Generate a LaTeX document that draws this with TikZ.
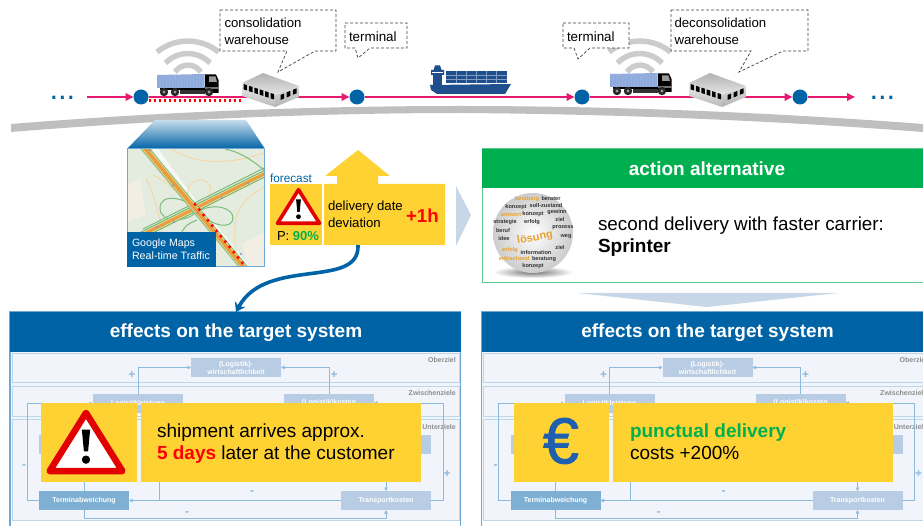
\documentclass[tikz,border=0pt]{standalone}
\usepackage{fontspec}
\setmainfont{Liberation Sans}
\newfontfamily\eurofont[FakeBold=1.2]{Liberation Sans}
\usetikzlibrary{arrows.meta,shapes.geometric}
\definecolor{hdrblue}{HTML}{0063A6}
\definecolor{linkpink}{HTML}{E5196E}
\definecolor{sunny}{HTML}{FFD233}
\definecolor{softblue}{HTML}{C8D7E8}
\definecolor{okgreen}{HTML}{00B050}
\definecolor{bandgrey}{HTML}{BFBFBF}
\definecolor{panelbg}{HTML}{F1F4FA}
\definecolor{bandline}{HTML}{BCD6EA}
\definecolor{goalbox}{HTML}{B8CCE4}
\definecolor{goalboxdark}{HTML}{7FB0D3}
\definecolor{goalline}{HTML}{8DBBDD}
\definecolor{panelline}{HTML}{6FA8D4}
\definecolor{shipblue}{HTML}{1F4E8C}
\definecolor{shipline}{HTML}{7F9CC5}
\definecolor{alarmred}{HTML}{E30000}
\definecolor{roadgreen}{HTML}{7ABC78}
\definecolor{roadorange}{HTML}{E89E3C}
\definecolor{rampyellow}{HTML}{F5D9A5}
\definecolor{mapground}{HTML}{E4ECDF}
\definecolor{mapbeige}{HTML}{F2EEE4}
\definecolor{wordorange}{HTML}{E8A030}
\definecolor{eurocol}{HTML}{1F5FAF}
\newcommand{\fs}[1]{\fontsize{#1}{#1}\selectfont}
\tikzset{
  txt/.style={anchor=base west,inner sep=0pt,outer sep=0pt},
  hub/.style={circle,fill=hdrblue,minimum size=15pt,inner sep=0pt,outer sep=0pt},
  leg/.style={draw=linkpink,line width=1.8pt},
  legarrow/.style={leg,-{Triangle[length=8pt,width=7.5pt]}},
  callout/.style={draw=black!75,line width=.7pt,fill=white,dash pattern=on 3pt off 2pt},
  yellowbox/.style={fill=sunny},
  goal/.style={fill=goalbox,text=white,font=\bfseries\fs{7},align=center,inner sep=0pt,outer sep=0pt,minimum width=90pt,minimum height=19pt},
  goaldark/.style={goal,fill=goalboxdark},
  goalflow/.style={draw=goalline,line width=1pt},
  goalarrow/.style={goalflow,-{Triangle[length=3.5pt,width=3.5pt]}},
  tag/.style={text=black!45,font=\bfseries\fs{7},anchor=base east,inner sep=0pt},
  sign/.style={text=goalline,font=\bfseries\fs{12},inner sep=0pt},
  wifiarc/.style={draw=black!20,line width=5.5pt},
  ramp/.style={draw=rampyellow,line width=1pt},
  loopg/.style={draw=roadgreen,line width=1pt},
  word/.style={inner sep=0pt,text=black!80,font=\bfseries\fs{5.6}},
  hotword/.style={word,text=wordorange},
  pics/wifi/.style={code={
    \draw[wifiarc] (157,52) arc[start angle=129,end angle=51,radius=49pt];
    \draw[wifiarc] (165.5,63) arc[start angle=136,end angle=44,radius=31pt];
    \draw[wifiarc] (175,72) arc[start angle=146,end angle=34,radius=15.6pt];
  }},
  pics/truck/.style={code={
    \fill[fill=black] (160,87) rectangle (206,90);
    \fill[fill=black!80] (180,90) rectangle (205,94);
    \fill[fill=black] (205,74.5) -- (216,74.5) -- (218.5,80) -- (218.5,93) -- (205,93) -- cycle;
    \fill[fill=black!40] (209,76.5) -- (215.5,76.5) -- (217,82) -- (209,82) -- cycle;
    \fill[fill=black!55] (205,87) rectangle (218.5,89);
    \fill[fill={rgb,255:red,143;green,170;blue,220}] (157,75) -- (204.5,74) -- (204.5,88) -- (157,88) -- cycle;
    \foreach \q in {160,163,...,203}{\draw[white,opacity=.08,line width=.5pt] (\q,75) -- (\q,88);}
    \foreach \q in {164,175,209}{
      \fill[black!85] (\q,92) circle (4.2pt);
      \fill[black!40] (\q,92) circle (1.6pt);
    }
  }},
  pics/depot/.style={code={
    \shade[top color=black!6,bottom color=black!28] (242,83) -- (242,96) -- (275,107) -- (275,95) -- cycle;
    \shade[top color=black!14,bottom color=black!30] (275,95) -- (275,107) -- (299,97) -- (299,86) -- cycle;
    \shade[top color=black!30,bottom color=black!10] (242,83) -- (263,73) -- (299,86) -- (275,95) -- cycle;
    \foreach \q in {0,1,2,3,4,5}{
      \fill[black] (243.5+\q*5.4,84+\q*1.8) -- ++(3.6,1.1) -- ++(0,5.4) -- ++(-3.6,-1.1) -- cycle;
    }
    \foreach \q in {0,1,2}{
      \fill[black] (280.5+\q*6.2,95-\q*2.6) -- ++(3.6,-1.5) -- ++(0,5) -- ++(-3.6,1.5) -- cycle;
    }
  }},
  pics/alarm/.style={code={
    \draw[draw=alarmred,fill=white,line width=#1,line join=round]
      (0,-28) -- (35,28) -- (-35,28) -- cycle;
    \fill[black] (-4,-12) -- (4,-12) -- (2,9) -- (-2,9) -- cycle;
    \fill[black] (0,17) circle (4pt);
  }},
  pics/targetpanel/.style={code={
    \fill[panelbg] (10,352) rectangle (460,520);
    \draw[bandline,line width=1pt] (12,353) rectangle (459,382);
    \draw[bandline,line width=1pt] (12,386) rectangle (459,416);
    \draw[bandline,line width=1pt] (12,419.5) rectangle (459,520);
    \draw[panelline,line width=1.2pt] (10,526) -- (10,312) -- (460.5,312) -- (460.5,526);
    \node[tag] at (456,362) {Oberziel};
    \node[tag] at (456,395) {Zwischenziele};
    \node[tag] at (456,429) {Unterziele};
    \node[goal] (top) at (236,367.5) {(Logistik)-\\[1pt]wirtschaftlichkeit};
    \node[goal] (perf) at (138,403.5) {Logistikleistung};
    \node[goal] (cost) at (329,403) {(Logistik)kosten};
    \node[goal] (subl) at (84,444.5) {};
    \node[goal] (subr) at (386,444.5) {};
    \node[goaldark] (late) at (84,500.5) {Terminabweichung};
    \node[goal] (trans) at (386,500.5) {Transportkosten};
    \draw[goalarrow] (perf.north) |- (top.west);
    \draw[goalarrow] (cost.north) |- (top.east);
    \draw[goalarrow] (late.west) -- ++(-12,0) |- (perf.west);
    \draw[goalarrow] (trans.east) -- ++(12,0) |- (cost.east);
    \draw[goalarrow] (trans.west) -- (late.east);
    \draw[goalflow] (159,470) -- (159,500.5);
    \draw[goalflow] (late.north) -- (subl.south);
    \draw[goalarrow] (subr.south) -- (trans.north);
    \draw[goalarrow] (late.south) |- (386,518) -- (trans.south);
    \node[sign] at (132,375) {+};
    \node[sign] at (334,375) {+};
    \node[sign] at (447,474) {+};
    \node[sign] at (24,467) {-};
    \node[sign] at (252,493) {-};
    \node[sign] at (187,514) {-};
    \fill[hdrblue] (10,312) rectangle (460.5,352);
    \node[text=white,font=\bfseries\fs{19},inner sep=0pt] (title) at (236,332.5) {effects on the target system};
    \coordinate (headtop) at (236,312);
  }},
}
\begin{document}
\begin{tikzpicture}[x=1pt,y=-1pt]
\useasboundingbox (0,0) rectangle (923,526);
\clip (0,0) rectangle (923,526);

% hubs and connectors
\node[hub] (h1) at (141,97) {};
\node[hub] (h2) at (357,97) {};
\node[hub] (h3) at (582,97) {};
\node[hub] (h4) at (800,97) {};
\coordinate (start) at (87,97);
\coordinate (stop) at (855,97);
\coordinate (wh1) at (271,97);
\coordinate (wh2) at (718,97);
\draw[legarrow] (start) -- (h1);
\draw[leg] (h1) -- (wh1);
\draw[legarrow] (wh1) -- (h2);
\draw[legarrow] (h2) -- (h3);
\draw[leg] (h3) -- (wh2);
\draw[legarrow] (wh2) -- (h4);
\draw[legarrow] (h4) -- (stop);
\coordinate (dot1) at (148.5,100.5);
\coordinate (dot2) at (241,100.5);
\draw[red,line width=3pt,dash pattern=on 2.8pt off 2.2pt] (dot1) -- (dot2);
\node[txt,text=hdrblue,font=\fs{31}] (lead) at (49.5,100) {...};
\node[txt,text=hdrblue,font=\fs{31}] (trail) at (869.5,100) {...};

% wifi and trucks
\pic at (0,0) {wifi};
\pic at (452,0) {wifi};
\pic at (0,0) {truck};
\pic at (453,-1) {truck};
\pic at (0,0) {depot};
\pic at (447,0) {depot};

% ship
\fill[shipblue] (430,85) -- (511,84) -- (505,94) -- (437,94) -- (431,90) -- cycle;
\fill[shipblue] (433,75) rectangle (442,86);
\fill[shipblue] (431,70) -- (433.5,70) -- (435,65.5) -- (440,65.5) -- (441.5,70) -- (444,70) -- (444,75) -- (431,75) -- cycle;
\fill[shipblue] (446,71) rectangle (507,83);
\foreach \q in {456,466,476,486,496}{\draw[shipline,line width=.5pt] (\q,71) -- (\q,83);}
\foreach \q in {75,79}{\draw[shipline,line width=.5pt] (446,\q) -- (507,\q);}
\draw[white,line width=.6pt] (432,72) -- (443,72);

% callouts
\draw[callout] (220,10) -- (336,10) -- (336,51) -- (315,51) -- (278,72) -- (287,51) -- (220,51) -- cycle;
\node[txt,font=\fs{13.2}] (cw1) at (224.5,27.5) {consolidation};
\node[txt,font=\fs{13.2}] (cw2) at (224.5,45) {warehouse};
\draw[callout] (345,23) -- (407,23) -- (407,48) -- (370,48) -- (358,58) -- (355,48) -- (345,48) -- cycle;
\node[txt,font=\fs{13.4}] (t1) at (349,41.5) {terminal};
\draw[callout] (563,23) -- (629,23) -- (629,48) -- (590,48) -- (578,59) -- (574,48) -- (563,48) -- cycle;
\node[txt,font=\fs{13.4}] (t2) at (567,41.5) {terminal};
\draw[callout] (671,10) -- (808,10) -- (808,51) -- (783,51) -- (739,72) -- (751,51) -- (671,51) -- cycle;
\node[txt,font=\fs{13.2}] (dw1) at (674.5,27.5) {deconsolidation};
\node[txt,font=\fs{13.2}] (dw2) at (674.5,45) {warehouse};

% grey beam
\fill[bandgrey] (11,124) .. controls (160,112) and (310,106) .. (460,106)
  .. controls (620,106) and (780,113) .. (923,124) -- (923,132)
  .. controls (780,121) and (620,114) .. (460,113)
  .. controls (310,113) and (160,120) .. (11,132) -- cycle;

% funnel
\shade[top color=hdrblue!22!white,bottom color=hdrblue] (155,120) -- (246,120) -- (265,149) -- (127,149) -- cycle;

% map
\begin{scope}
\clip (127,149) rectangle (264,267);
\fill[mapground] (127,149) rectangle (264,267);
\fill[mapbeige] (127,185) -- (140,178) -- (146,215) -- (127,222) -- cycle;
\fill[mapbeige] (264,232) -- (264,267) -- (248,267) -- (242,244) -- cycle;
\fill[white!70!mapground] (152,149) -- (158,149) -- (197,202) -- (192,207) -- cycle;
\fill[white!70!mapground] (208,224) -- (214,222) -- (250,267) -- (240,267) -- cycle;
\draw[ramp] (146,178) .. controls (152,190) and (160,215) .. (162,232);
\draw[ramp] (264,187) .. controls (245,198) and (236,210) .. (235,225) .. controls (234,245) and (236,255) .. (238,267);
\draw[ramp] (197,208) .. controls (188,202) and (187,193) .. (188,189) .. controls (190,180) and (205,175) .. (210,186) .. controls (212,195) and (205,204) .. (198,208);
\draw[ramp] (153,175) .. controls (170,183) and (182,198) .. (192,206);
\draw[ramp] (172,149) .. controls (195,165) and (230,165) .. (264,153);
\draw[loopg] (150,149) .. controls (165,175) and (178,190) .. (192,203);
\draw[loopg] (225,149) .. controls (240,152) and (252,160) .. (264,170);
\draw[loopg] (196,210) .. controls (188,198) and (160,192) .. (160,208) .. controls (160,224) and (188,222) .. (196,212);
\draw[loopg] (201,210) .. controls (215,203) and (233,208) .. (233,218) .. controls (233,230) and (210,226) .. (203,214);
\draw[loopg] (197,220) .. controls (187,224) and (182,228) .. (181,236);
\draw[loopg] (228,248) .. controls (232,254) and (236,260) .. (240,267);
\draw[draw=roadgreen,line width=7pt] (140,236) -- (270,171);
\draw[draw=rampyellow,line width=4.6pt] (140,236) -- (270,171);
\draw[draw=roadorange,line width=3pt] (140,236) -- (270,171);
\draw[draw=roadgreen,line width=1pt] (143,229) -- (270,165);
\draw[draw=roadgreen,line width=7.5pt] (143,146) -- (246,270);
\draw[draw=rampyellow,line width=5.5pt] (143,146) -- (246,270);
\draw[draw=roadorange,line width=4pt] (143,146) -- (246,270);
\foreach \p in {(150,150),(173,185),(222,198),(174,222),(157,227),(197,213),(248,183),(241,254)}{
  \fill[fill={rgb,255:red,120;green,150;blue,205}] \p circle (1.2pt);
}
\coordinate (jamA) at (195,204.3);
\coordinate (jamB) at (242.5,263);
\draw[red,line width=3.4pt,line cap=round,dash pattern=on 0pt off 6.85pt] (jamA) -- (jamB);
\end{scope}
\draw[panelline,line width=1pt] (127,149) rectangle (264,267);
\fill[hdrblue] (127,232) rectangle (216,267);
\node[txt,text=white,font=\fs{10.6}] (gm1) at (132,247) {Google Maps};
\node[txt,text=white,font=\fs{10.7}] (gm2) at (132,260) {Real-time Traffic};

% forecast
\node[txt,text=hdrblue,font=\fs{11.8}] (fc) at (270,183) {forecast};
\fill[yellowbox] (270,184) rectangle (322,245);
\pic[scale=.6] at (298.5,206.5) {alarm=3.6pt};
\node[txt,font=\fs{13}] (prob) at (277,241) {P: \textcolor{okgreen}{\textbf{90\%}}};

% deviation
\fill[sunny] (358,150) -- (390,176) -- (378,176) -- (378,184) -- (445,184) -- (445,245) -- (324,245) -- (324,184) -- (337,184) -- (337,176) -- (325,176) -- cycle;
\node[txt,font=\fs{13.2}] (dv1) at (328,211) {delivery date};
\node[txt,font=\fs{13.2}] (dv2) at (328,228) {deviation};
\node[txt,text=red,font=\bfseries\fs{18.7}] (plus) at (406,223) {+1h};
\coordinate (devout) at (358,245);
\fill[softblue] (456,186) -- (471,215) -- (456,246) -- cycle;

% target panels
\pic (pL-) at (0,0) {targetpanel};
\pic (pR-) at (471.5,0) {targetpanel};
\draw[hdrblue,line width=3.6pt,-{Stealth[length=9pt,width=12pt]}] (devout) .. controls (360,290) and (266,256) .. (pL-headtop);

% left panel overlay
\fill[yellowbox] (41,403) rectangle (136.5,481.5);
\fill[yellowbox] (141,403) rectangle (421,481.5);
\pic[scale=1.04] at (86,442) {alarm=6.5pt};
\node[txt,font=\fs{19}] (ls1) at (157,437) {shipment arrives approx.};
\node[txt,font=\fs{19}] (ls2) at (157,459) {\textcolor{red}{\textbf{5 days}} later at the customer};

% right panel overlay
\fill[yellowbox] (514,403) rectangle (609,481.5);
\fill[yellowbox] (613,403) rectangle (893,481.5);
\node[text=eurocol,font=\eurofont\fs{65},inner sep=0pt] (euro) at (561,441) {€};
\node[txt,text=okgreen,font=\bfseries\fs{19}] (rs1) at (630,437) {punctual delivery};
\node[txt,font=\fs{19}] (rs2) at (630,459) {costs +200\%};

% soft down chevron
\fill[softblue] (577,293) -- (838,293) -- (707,307) -- cycle;

% action alternative
\draw[draw={rgb,255:red,90;green,200;blue,140},line width=1pt,fill=white] (482,149) rectangle (930,283);
\fill[okgreen] (482,149) rectangle (930,188);
\node[text=white,font=\bfseries\fs{19},inner sep=0pt] (aa) at (707,168.5) {action alternative};
\shade[inner color=black!55,outer color=white] (533,272) ellipse (40pt and 6pt);
\shade[inner color=white,outer color=black!20] (533,233) circle (40pt);
\foreach \wx/\wy/\wt/\wst in {
  527/199/beratung/hotword,
  551/199/berater/word,
  516/207/konzept/word,
  546/206/soll-zustand/word,
  511/215/antwort/hotword,
  533/214/konzept/word,
  557/212/gewinn/word,
  505/222/strategie/word,
  532/222/erfolg/word,
  560/219/ziel/word,
  503/231/beruf/word,
  563/228/prozess/word,
  504/239/idee/word,
  566/237/weg/word,
  510/250/erfolg/hotword,
  536/252/information/word,
  560/247/ziel/word,
  514/258/erfrischend/hotword,
  544/259/beratung/word,
  533/266/konzept/word}{
  \node[\wst] at (\wx,\wy) {\wt};
}
\node[inner sep=0pt,text=wordorange,font=\bfseries\fs{11},rotate=10] (sol) at (535,238) {lösung};
\node[txt,font=\fs{18.85}] (sd1) at (598,231) {second delivery with faster carrier:};
\node[txt,font=\bfseries\fs{19}] (sd2) at (598,253) {Sprinter};
\end{tikzpicture}
\end{document}
